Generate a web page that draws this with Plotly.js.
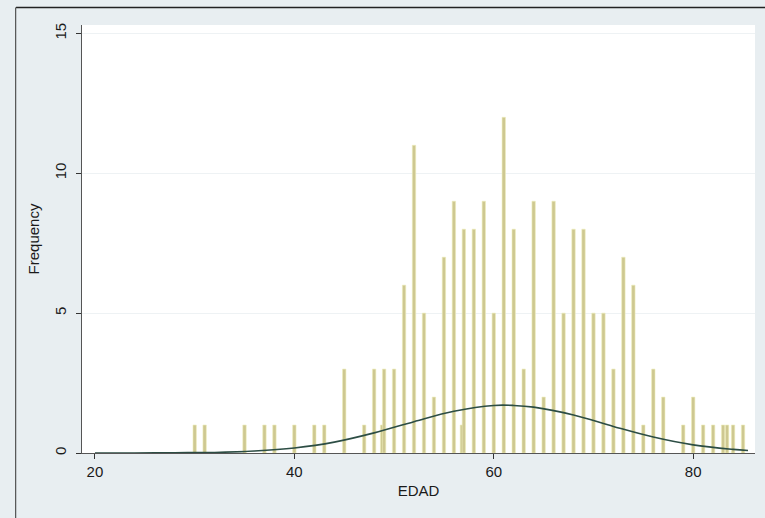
<!DOCTYPE html>
<html>
<head>
<meta charset="utf-8">
<script src="https://cdn.plot.ly/plotly-3.0.1.min.js"></script>
<style>
html,body{margin:0;padding:0;background:#e8eef1;}
#chart{width:765px;height:518px;}
</style>
</head>
<body>
<div id="chart"></div>
<script>
// Histogram bars (age, frequency)
const ages = [30, 31, 35, 37, 38, 40, 42, 43, 45, 47, 48, 48.8, 49, 50, 51, 52, 53, 54, 55, 56, 56.8, 57, 58, 59, 60, 61, 62, 63, 64, 65, 66, 67, 68, 69, 70, 71, 72, 73, 74, 75, 76, 77, 79, 80, 81, 82, 83, 83.4, 84, 85];
const freqs = [1, 1, 1, 1, 1, 1, 1, 1, 3, 1, 3, 1, 3, 3, 6, 11, 5, 2, 7, 9, 1, 8, 8, 9, 5, 12, 8, 3, 9, 2, 9, 5, 8, 8, 5, 5, 3, 7, 6, 1, 3, 2, 1, 2, 1, 1, 1, 1, 1, 1];

// Normal-density overlay, points
const curveX = [20, 24, 28, 32, 36, 40, 44, 48, 52, 56, 60, 62, 64, 68, 72, 76, 80, 84, 85.5];
const curveY = [0.00, 0.00, 0.01, 0.02, 0.07, 0.18, 0.39, 0.72, 1.12, 1.49, 1.70, 1.70, 1.64, 1.36, 0.95, 0.57, 0.29, 0.13, 0.09];

const xTicks = [20, 40, 60, 80];
const yTicks = [0, 5, 10, 15];

const traces = [
  {
    type: 'bar',
    x: ages,
    y: freqs,
    width: 0.34,
    marker: {color: 'rgb(206,200,145)', line: {color: 'rgb(238,238,186)', width: 0.6}},
    hoverinfo: 'x+y',
    showlegend: false
  },
  {
    type: 'scatter',
    mode: 'lines',
    x: curveX,
    y: curveY,
    line: {color: '#2c4d44', width: 1.6, shape: 'spline', smoothing: 1},
    showlegend: false
  }
];

const fontFam = '"Liberation Sans", Arial, Helvetica, sans-serif';

const layout = {
  width: 765,
  height: 518,
  margin: {l: 82, r: 10, t: 25, b: 65},
  paper_bgcolor: '#e8eef1',
  plot_bgcolor: '#ffffff',
  font: {family: fontFam, size: 15, color: '#1a1a1a'},
  bargap: 0,
  xaxis: {
    range: [18.7, 86.2],
    tickvals: xTicks,
    ticktext: xTicks.map(String),
    ticks: 'outside',
    ticklen: 5,
    tickcolor: '#333',
    showline: true,
    linecolor: '#555',
    linewidth: 1,
    showgrid: false,
    zeroline: false,
    tickfont: {size: 15},
    title: {text: 'EDAD', font: {size: 15}, standoff: 6}
  },
  yaxis: {
    range: [0, 15.3],
    tickvals: yTicks,
    ticktext: yTicks.map(String),
    tickangle: -90,
    ticks: 'outside',
    ticklen: 5,
    tickcolor: '#333',
    ticklabelstandoff: 4,
    showline: true,
    linecolor: '#555',
    linewidth: 1,
    showgrid: true,
    gridcolor: '#eef2f4',
    gridwidth: 1,
    zeroline: false,
    tickfont: {size: 15},
    title: {text: 'Frequency', font: {size: 15}, standoff: 8}
  },
  shapes: [
    {type: 'line', xref: 'paper', yref: 'paper', x0: -0.098, x1: 1.02, y0: 1.041, y1: 1.041, line: {color: '#222', width: 1.5}},
    {type: 'line', xref: 'paper', yref: 'paper', x0: -0.0985, x1: -0.0985, y0: 1.041, y1: -0.16, line: {color: '#333', width: 1}}
  ]
};

Plotly.newPlot('chart', traces, layout, {displayModeBar: false, staticPlot: true});
</script>
</body>
</html>
